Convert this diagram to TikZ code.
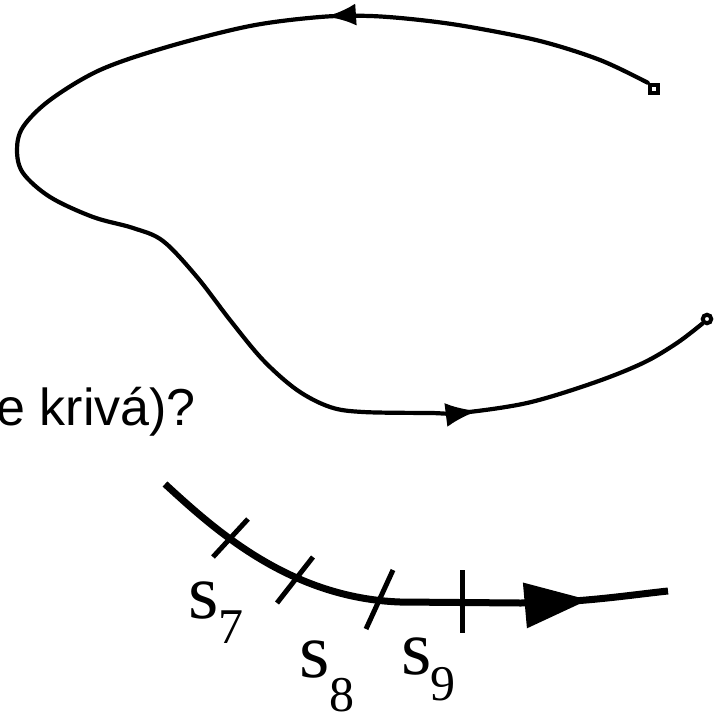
\documentclass[tikz,border=0pt]{standalone}
\usepackage{fontspec}
\setmainfont{Liberation Serif}
\newfontfamily\sansf{Liberation Sans}
\usetikzlibrary{arrows.meta,decorations.markings}
\begin{document}
\begin{tikzpicture}[x=1pt,y=-1pt,
  bigline/.style={line width=4.2pt, line cap=round, line join=round},
  thickline/.style={line width=7pt, line join=round},
  tickmark/.style={line width=5pt},
  endmark/.style={draw, line width=4pt, fill=white, inner sep=0pt, minimum size=8.5pt},
  slabel/.style={inner sep=0pt, anchor=base west, font=\fontsize{78}{80}\selectfont},
  sub/.style={inner sep=0pt, anchor=base west, font=\fontsize{50}{52}\selectfont}]
\useasboundingbox (0,0) rectangle (725,714);

% end markers of the big curve
\node[endmark, rectangle] (start) at (654,89) {};
\node[endmark, circle] (stop) at (707,319) {};

% big curve
\draw[bigline, postaction={decorate}, decoration={markings,
    mark=at position 332pt with {\arrow{Latex[length=30pt,width=22pt]}},
    mark=at position 1255pt with {\arrow{Latex[length=32pt,width=24pt]}}}]
  plot[smooth, tension=0.55] coordinates {
  (start.north west) (600,60) (540,41) (470,27) (420,20) (370,16)
  (320,17) (250,26) (167,47) (100,70) (50,100) (23,127) (17,150) (23,173)
  (50,197) (93,217) (133,228) (163,241) (197,277) (230,320) (263,360)
  (297,390) (330,407) (363,412) (430,413) (460,413) (527,403) (593,383)
  (643,363) (677,343) (stop.south west)};

% text
\node[font=\sansf\fontsize{52}{60}\selectfont, anchor=base east, inner sep=0pt] (q) at (196,425) {e krivá)?};

% bottom curve
\coordinate (b0) at (165,484);
\coordinate (b1) at (400,602);
\coordinate (b2) at (520,603);
\coordinate (b3) at (668,591);
\draw[thickline, postaction={decorate}, decoration={markings,
    mark=at position 458pt with {\arrow{Triangle[length=64pt,width=44pt]}}}]
  (b0) .. controls (215,530) and (290,598) .. (b1) -- (b2)
  .. controls (580,603) and (630,595) .. (b3);

% ticks
\draw[tickmark] (213,557) -- (248,519);
\draw[tickmark] (277,603) -- (313,557);
\draw[tickmark] (366,629) -- (393,570);
\draw[tickmark] (462,570) -- (462,633);

% labels
\node[slabel] (s7) at (188,618) {s};
\node[sub] (n7) at (218,643) {7};
\node[slabel] (s8) at (299,677) {s};
\node[sub] (n8) at (329,711) {8};
\node[slabel] (s9) at (401,674) {s};
\node[sub] (n9) at (430,700) {9};
\end{tikzpicture}
\end{document}
